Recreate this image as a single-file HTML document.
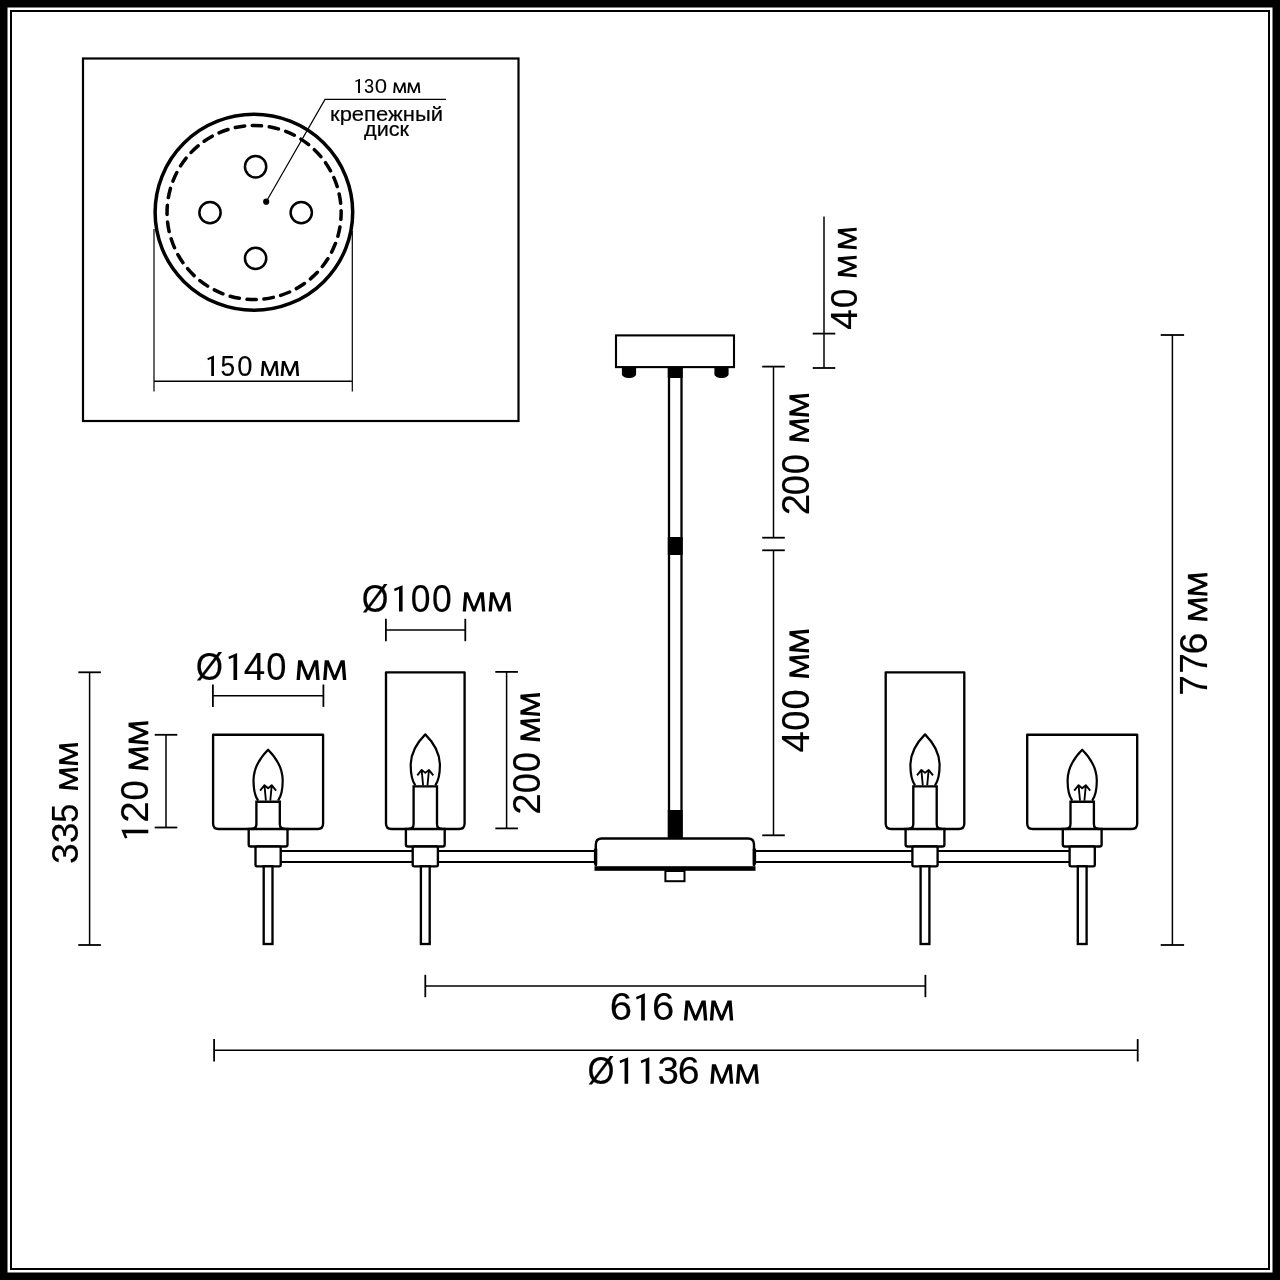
<!DOCTYPE html>
<html><head><meta charset="utf-8"><style>
html,body{margin:0;padding:0;background:#fff;}
svg{display:block;will-change:transform;}
</style></head><body>
<svg width="1280" height="1280" viewBox="0 0 1280 1280">
<rect width="1280" height="1280" fill="#fff"/>
<rect x="0" y="0" width="1280" height="7.5" fill="#000"/>
<rect x="0" y="1272.5" width="1280" height="7.5" fill="#000"/>
<rect x="0" y="0" width="7.5" height="1280" fill="#000"/>
<rect x="1272.5" y="0" width="7.5" height="1280" fill="#000"/>
<rect x="11" y="11" width="1258" height="1258" fill="none" stroke="#000" stroke-width="2"/>
<rect x="83" y="58.5" width="435.5" height="362.5" fill="none" stroke="#000" stroke-width="2.2"/>
<ellipse cx="253.9" cy="212.35" rx="98.8" ry="98.0" fill="none" stroke="#000" stroke-width="3.5"/>
<circle cx="254.1" cy="212.5" r="87.05" fill="none" stroke="#000" stroke-width="3.5" stroke-linecap="round" stroke-dasharray="9.5 7.592" stroke-dashoffset="2.55"/>
<circle cx="255.6" cy="166.75" r="10.65" fill="none" stroke="#000" stroke-width="2.5"/>
<circle cx="210" cy="212.6" r="10.65" fill="none" stroke="#000" stroke-width="2.5"/>
<circle cx="301.25" cy="212.6" r="10.65" fill="none" stroke="#000" stroke-width="2.5"/>
<circle cx="255.6" cy="258.3" r="10.65" fill="none" stroke="#000" stroke-width="2.5"/>
<circle cx="266.2" cy="201.7" r="3.1" fill="#000"/>
<polyline points="266.2,201.7 325,99.4 446,99.4" fill="none" stroke="#000" stroke-width="1.2"/>
<line x1="154" y1="229" x2="154" y2="391.6" stroke="#000" stroke-width="1.2"/>
<line x1="352.3" y1="231" x2="352.3" y2="391.6" stroke="#000" stroke-width="1.2"/>
<line x1="154" y1="381.3" x2="352.3" y2="381.3" stroke="#000" stroke-width="1.5"/>
<rect x="616" y="335.4" width="118" height="31.7" fill="none" stroke="#000" stroke-width="2.1"/>
<path d="M621.9,367 h14.2 v7 C636.1,376.5 632.55,378 629.0,378 C625.4499999999999,378 621.9,376.5 621.9,374 z" fill="#000"/>
<path d="M714.4,367 h14.2 v7 C728.6,376.5 725.05,378 721.5,378 C717.9499999999999,378 714.4,376.5 714.4,374 z" fill="#000"/>
<line x1="669" y1="368" x2="669" y2="838" stroke="#000" stroke-width="2.3"/>
<line x1="681.5" y1="368" x2="681.5" y2="838" stroke="#000" stroke-width="2.3"/>
<rect x="667.8" y="368" width="14.9" height="10" fill="#000"/>
<rect x="667.8" y="537" width="14.9" height="18" fill="#000"/>
<rect x="667.8" y="810" width="14.9" height="28" fill="#000"/>
<line x1="280" y1="851.1" x2="596" y2="851.1" stroke="#000" stroke-width="2"/>
<line x1="754" y1="851.1" x2="1069" y2="851.1" stroke="#000" stroke-width="2"/>
<line x1="280" y1="862.0" x2="596" y2="862.0" stroke="#000" stroke-width="2"/>
<line x1="754" y1="862.0" x2="1069" y2="862.0" stroke="#000" stroke-width="2"/>
<path d="M595.8,866 V844.5 Q595.8,838.5 601.8,838.5 H748 Q754,838.5 754,844.5 V866" fill="#fff" stroke="#000" stroke-width="2.4"/>
<rect x="594.5" y="866.2" width="161" height="4.6" fill="#000"/>
<rect x="593.9" y="848.6" width="3.4" height="16" fill="#000"/>
<rect x="752.7" y="848.6" width="3.4" height="16" fill="#000"/>
<rect x="665.4" y="871" width="19.1" height="10.2" fill="none" stroke="#000" stroke-width="2"/>
<path d="M213.10000000000002,734.7 V823.5 Q213.10000000000002,829.0 218.60000000000002,829.0 H317.6 Q323.1,829.0 323.1,823.5 V734.7 Z" fill="#fff" stroke="#000" stroke-width="2.35" stroke-linejoin="round"/>
<path d="M248.70000000000002,829.0 V844.5 Q248.70000000000002,846.5 250.70000000000002,846.5 H285.5 Q287.5,846.5 287.5,844.5 V829.0" fill="#fff" stroke="#000" stroke-width="2.35" stroke-linejoin="round"/>
<path d="M251.40000000000003,829.0 Q256.40000000000003,829.0 256.40000000000003,824.0 V801.7 H279.8 V824.0 Q279.8,829.0 284.8,829.0" fill="#fff" stroke="#000" stroke-width="2.35"/>
<line x1="247.60000000000002" y1="829.0" x2="288.6" y2="829.0" stroke="#000" stroke-width="2.35"/>
<path d="M258.1,800.7 C254.10000000000002,794.7 253.50000000000003,786.7 253.50000000000003,780.7 C253.50000000000003,765.7 262.1,755.7 268.1,749.7 C274.1,755.7 282.70000000000005,765.7 282.70000000000005,780.7 C282.70000000000005,786.7 282.1,794.7 278.1,800.7" fill="none" stroke="#000" stroke-width="2.2" stroke-linejoin="round"/>
<path d="M265.90000000000003,800.7 L264.5,785.7 M270.3,800.7 L271.70000000000005,785.7 M260.1,790.7 L264.5,785.2 L268.1,788.2 L271.70000000000005,785.2 L276.1,790.7" fill="none" stroke="#000" stroke-width="1.85" stroke-linejoin="round"/>
<path d="M386.0,672.3 V823.5 Q386.0,829.0 391.5,829.0 H459.1 Q464.6,829.0 464.6,823.5 V672.3 Z" fill="#fff" stroke="#000" stroke-width="2.35" stroke-linejoin="round"/>
<path d="M405.90000000000003,829.0 V844.5 Q405.90000000000003,846.5 407.90000000000003,846.5 H442.7 Q444.7,846.5 444.7,844.5 V829.0" fill="#fff" stroke="#000" stroke-width="2.35" stroke-linejoin="round"/>
<path d="M408.6,829.0 Q413.6,829.0 413.6,824.0 V786.4 H437.0 V824.0 Q437.0,829.0 442.0,829.0" fill="#fff" stroke="#000" stroke-width="2.35"/>
<line x1="404.8" y1="829.0" x2="445.8" y2="829.0" stroke="#000" stroke-width="2.35"/>
<path d="M415.3,785.4 C411.3,779.4 410.7,771.4 410.7,765.4 C410.7,750.4 419.3,740.4 425.3,734.4 C431.3,740.4 439.90000000000003,750.4 439.90000000000003,765.4 C439.90000000000003,771.4 439.3,779.4 435.3,785.4" fill="none" stroke="#000" stroke-width="2.2" stroke-linejoin="round"/>
<path d="M423.1,785.4 L421.7,770.4 M427.5,785.4 L428.90000000000003,770.4 M417.3,775.4 L421.7,769.9 L425.3,772.9 L428.90000000000003,769.9 L433.3,775.4" fill="none" stroke="#000" stroke-width="1.85" stroke-linejoin="round"/>
<path d="M885.7,672.3 V823.5 Q885.7,829.0 891.2,829.0 H958.8 Q964.3,829.0 964.3,823.5 V672.3 Z" fill="#fff" stroke="#000" stroke-width="2.35" stroke-linejoin="round"/>
<path d="M905.6,829.0 V844.5 Q905.6,846.5 907.6,846.5 H942.4 Q944.4,846.5 944.4,844.5 V829.0" fill="#fff" stroke="#000" stroke-width="2.35" stroke-linejoin="round"/>
<path d="M908.3,829.0 Q913.3,829.0 913.3,824.0 V786.4 H936.7 V824.0 Q936.7,829.0 941.7,829.0" fill="#fff" stroke="#000" stroke-width="2.35"/>
<line x1="904.5" y1="829.0" x2="945.5" y2="829.0" stroke="#000" stroke-width="2.35"/>
<path d="M915.0,785.4 C911.0,779.4 910.4,771.4 910.4,765.4 C910.4,750.4 919.0,740.4 925.0,734.4 C931.0,740.4 939.6,750.4 939.6,765.4 C939.6,771.4 939.0,779.4 935.0,785.4" fill="none" stroke="#000" stroke-width="2.2" stroke-linejoin="round"/>
<path d="M922.8,785.4 L921.4,770.4 M927.2,785.4 L928.6,770.4 M917.0,775.4 L921.4,769.9 L925.0,772.9 L928.6,769.9 L933.0,775.4" fill="none" stroke="#000" stroke-width="1.85" stroke-linejoin="round"/>
<path d="M1027.2,734.7 V823.5 Q1027.2,829.0 1032.7,829.0 H1131.7 Q1137.2,829.0 1137.2,823.5 V734.7 Z" fill="#fff" stroke="#000" stroke-width="2.35" stroke-linejoin="round"/>
<path d="M1062.8,829.0 V844.5 Q1062.8,846.5 1064.8,846.5 H1099.6000000000001 Q1101.6000000000001,846.5 1101.6000000000001,844.5 V829.0" fill="#fff" stroke="#000" stroke-width="2.35" stroke-linejoin="round"/>
<path d="M1065.5,829.0 Q1070.5,829.0 1070.5,824.0 V801.7 H1093.9 V824.0 Q1093.9,829.0 1098.9,829.0" fill="#fff" stroke="#000" stroke-width="2.35"/>
<line x1="1061.7" y1="829.0" x2="1102.7" y2="829.0" stroke="#000" stroke-width="2.35"/>
<path d="M1072.2,800.7 C1068.2,794.7 1067.6000000000001,786.7 1067.6000000000001,780.7 C1067.6000000000001,765.7 1076.2,755.7 1082.2,749.7 C1088.2,755.7 1096.8,765.7 1096.8,780.7 C1096.8,786.7 1096.2,794.7 1092.2,800.7" fill="none" stroke="#000" stroke-width="2.2" stroke-linejoin="round"/>
<path d="M1080.0,800.7 L1078.6000000000001,785.7 M1084.4,800.7 L1085.8,785.7 M1074.2,790.7 L1078.6000000000001,785.2 L1082.2,788.2 L1085.8,785.2 L1090.2,790.7" fill="none" stroke="#000" stroke-width="1.85" stroke-linejoin="round"/>
<rect x="255.50000000000003" y="846.5" width="25.2" height="19.8" rx="1.5" fill="#fff" stroke="#000" stroke-width="2.35"/>
<rect x="263.70000000000005" y="866.3" width="8.8" height="77.7" fill="#fff" stroke="#000" stroke-width="2.35"/>
<rect x="412.7" y="846.5" width="25.2" height="19.8" rx="1.5" fill="#fff" stroke="#000" stroke-width="2.35"/>
<rect x="420.90000000000003" y="866.3" width="8.8" height="77.7" fill="#fff" stroke="#000" stroke-width="2.35"/>
<rect x="912.4" y="846.5" width="25.2" height="19.8" rx="1.5" fill="#fff" stroke="#000" stroke-width="2.35"/>
<rect x="920.6" y="866.3" width="8.8" height="77.7" fill="#fff" stroke="#000" stroke-width="2.35"/>
<rect x="1069.6000000000001" y="846.5" width="25.2" height="19.8" rx="1.5" fill="#fff" stroke="#000" stroke-width="2.35"/>
<rect x="1077.8" y="866.3" width="8.8" height="77.7" fill="#fff" stroke="#000" stroke-width="2.35"/>
<line x1="824" y1="216.4" x2="824" y2="368" stroke="#000" stroke-width="1.5"/>
<line x1="812.7" y1="333.6" x2="835.3" y2="333.6" stroke="#000" stroke-width="1.8"/>
<line x1="812.7" y1="368" x2="835.3" y2="368" stroke="#000" stroke-width="1.8"/>
<line x1="773.5" y1="366.6" x2="773.5" y2="537.7" stroke="#000" stroke-width="1.5"/>
<line x1="762.2" y1="366.6" x2="784.8" y2="366.6" stroke="#000" stroke-width="1.8"/>
<line x1="762.2" y1="537.7" x2="784.8" y2="537.7" stroke="#000" stroke-width="1.8"/>
<line x1="773.5" y1="550.3" x2="773.5" y2="835.3" stroke="#000" stroke-width="1.5"/>
<line x1="762.2" y1="550.3" x2="784.8" y2="550.3" stroke="#000" stroke-width="1.8"/>
<line x1="762.2" y1="835.3" x2="784.8" y2="835.3" stroke="#000" stroke-width="1.8"/>
<line x1="1172.4" y1="335" x2="1172.4" y2="945" stroke="#000" stroke-width="1.5"/>
<line x1="1160.7" y1="335" x2="1184.1000000000001" y2="335" stroke="#000" stroke-width="1.8"/>
<line x1="1160.7" y1="945" x2="1184.1000000000001" y2="945" stroke="#000" stroke-width="1.8"/>
<line x1="89.6" y1="672.3" x2="89.6" y2="945" stroke="#000" stroke-width="1.5"/>
<line x1="78.3" y1="672.3" x2="100.89999999999999" y2="672.3" stroke="#000" stroke-width="1.8"/>
<line x1="78.3" y1="945" x2="100.89999999999999" y2="945" stroke="#000" stroke-width="1.8"/>
<line x1="166" y1="734.8" x2="166" y2="827.5" stroke="#000" stroke-width="1.5"/>
<line x1="154.7" y1="734.8" x2="177.3" y2="734.8" stroke="#000" stroke-width="1.8"/>
<line x1="154.7" y1="827.5" x2="177.3" y2="827.5" stroke="#000" stroke-width="1.8"/>
<line x1="506.6" y1="671.9" x2="506.6" y2="828.4" stroke="#000" stroke-width="1.5"/>
<line x1="495.3" y1="671.9" x2="517.9" y2="671.9" stroke="#000" stroke-width="1.8"/>
<line x1="495.3" y1="828.4" x2="517.9" y2="828.4" stroke="#000" stroke-width="1.8"/>
<line x1="212.9" y1="695.7" x2="323.4" y2="695.7" stroke="#000" stroke-width="1.5"/>
<line x1="212.9" y1="684.5" x2="212.9" y2="706.9000000000001" stroke="#000" stroke-width="1.8"/>
<line x1="323.4" y1="684.5" x2="323.4" y2="706.9000000000001" stroke="#000" stroke-width="1.8"/>
<line x1="385.9" y1="630.0" x2="465.3" y2="630.0" stroke="#000" stroke-width="1.5"/>
<line x1="385.9" y1="618.8" x2="385.9" y2="641.2" stroke="#000" stroke-width="1.8"/>
<line x1="465.3" y1="618.8" x2="465.3" y2="641.2" stroke="#000" stroke-width="1.8"/>
<line x1="425.3" y1="986.0" x2="925.4" y2="986.0" stroke="#000" stroke-width="1.5"/>
<line x1="425.3" y1="974.8" x2="425.3" y2="997.2" stroke="#000" stroke-width="1.8"/>
<line x1="925.4" y1="974.8" x2="925.4" y2="997.2" stroke="#000" stroke-width="1.8"/>
<line x1="214.1" y1="1050.3" x2="1137.7" y2="1050.3" stroke="#000" stroke-width="1.5"/>
<line x1="214.1" y1="1039.1" x2="214.1" y2="1061.5" stroke="#000" stroke-width="1.8"/>
<line x1="1137.7" y1="1039.1" x2="1137.7" y2="1061.5" stroke="#000" stroke-width="1.8"/>
<text x="330.0" y="121.0" font-size="20.8" textLength="113.0" lengthAdjust="spacingAndGlyphs" font-family="Liberation Sans, sans-serif" fill="#000" stroke="#000" stroke-width="0.2">крепежный</text>
<text x="364.0" y="135.6" font-size="20.8" textLength="45.0" lengthAdjust="spacingAndGlyphs" font-family="Liberation Sans, sans-serif" fill="#000" stroke="#000" stroke-width="0.2">диск</text>
<text transform="translate(375.2,611.5) scale(0.8979,1)" x="0" y="0" text-anchor="middle" font-size="38.23" font-family="Liberation Sans, sans-serif" fill="#000" stroke="#000" stroke-width="0.167">Ø</text>
<path transform="translate(400.8,611.5)" d="M1.79,-26.30 L-6.77,-22.72 L-6.09,-20.31 L-1.79,-22.24 L-1.79,0.00 L1.79,0.00 Z" fill="#000"/>
<text transform="translate(420.5,611.5) scale(0.9275,1)" x="0" y="0" text-anchor="middle" font-size="38.23" font-family="Liberation Sans, sans-serif" fill="#000" stroke="#000" stroke-width="0.162">0</text>
<text transform="translate(441.75,611.5) scale(0.9275,1)" x="0" y="0" text-anchor="middle" font-size="38.23" font-family="Liberation Sans, sans-serif" fill="#000" stroke="#000" stroke-width="0.162">0</text>
<path transform="translate(474.0,611.5) scale(0.9912,0.9669)" d="M-11.4,0 L-9.85,-19.9 L-5.9,-19.9 L0,-4.8 L5.9,-19.9 L9.85,-19.9 L11.4,0 L8.1,0 L6.97,-14.5 L1.3,0 L-1.3,0 L-6.97,-14.5 L-8.1,0 Z" fill="#000"/>
<path transform="translate(499.9,611.5) scale(0.9912,0.9669)" d="M-11.4,0 L-9.85,-19.9 L-5.9,-19.9 L0,-4.8 L5.9,-19.9 L9.85,-19.9 L11.4,0 L8.1,0 L6.97,-14.5 L1.3,0 L-1.3,0 L-6.97,-14.5 L-8.1,0 Z" fill="#000"/>
<text transform="translate(209.4,680.0) scale(0.8979,1)" x="0" y="0" text-anchor="middle" font-size="39.10" font-family="Liberation Sans, sans-serif" fill="#000" stroke="#000" stroke-width="0.167">Ø</text>
<path transform="translate(235.3,680.0)" d="M1.83,-26.90 L-6.92,-23.24 L-6.23,-20.77 L-1.83,-22.75 L-1.83,0.00 L1.83,0.00 Z" fill="#000"/>
<text transform="translate(254.4,680.0) scale(0.9861,1)" x="0" y="0" text-anchor="middle" font-size="39.10" font-family="Liberation Sans, sans-serif" fill="#000" stroke="#000" stroke-width="0.152">4</text>
<text transform="translate(276.25,680.0) scale(0.9275,1)" x="0" y="0" text-anchor="middle" font-size="39.10" font-family="Liberation Sans, sans-serif" fill="#000" stroke="#000" stroke-width="0.162">0</text>
<path transform="translate(308.1,680.0) scale(1.0138,0.9890)" d="M-11.4,0 L-9.85,-19.9 L-5.9,-19.9 L0,-4.8 L5.9,-19.9 L9.85,-19.9 L11.4,0 L8.1,0 L6.97,-14.5 L1.3,0 L-1.3,0 L-6.97,-14.5 L-8.1,0 Z" fill="#000"/>
<path transform="translate(334.7,680.0) scale(1.0138,0.9890)" d="M-11.4,0 L-9.85,-19.9 L-5.9,-19.9 L0,-4.8 L5.9,-19.9 L9.85,-19.9 L11.4,0 L8.1,0 L6.97,-14.5 L1.3,0 L-1.3,0 L-6.97,-14.5 L-8.1,0 Z" fill="#000"/>
<text transform="translate(621.0,1020.4) scale(1.0161,1)" x="0" y="0" text-anchor="middle" font-size="39.53" font-family="Liberation Sans, sans-serif" fill="#000" stroke="#000" stroke-width="0.148">6</text>
<path transform="translate(643.0,1020.4)" d="M1.85,-27.20 L-7.00,-23.50 L-6.30,-21.00 L-1.85,-23.00 L-1.85,0.00 L1.85,0.00 Z" fill="#000"/>
<text transform="translate(663.1,1020.4) scale(1.0161,1)" x="0" y="0" text-anchor="middle" font-size="39.53" font-family="Liberation Sans, sans-serif" fill="#000" stroke="#000" stroke-width="0.148">6</text>
<path transform="translate(695.6,1020.4) scale(1.0251,1.0000)" d="M-11.4,0 L-9.85,-19.9 L-5.9,-19.9 L0,-4.8 L5.9,-19.9 L9.85,-19.9 L11.4,0 L8.1,0 L6.97,-14.5 L1.3,0 L-1.3,0 L-6.97,-14.5 L-8.1,0 Z" fill="#000"/>
<path transform="translate(721.55,1020.4) scale(1.0251,1.0000)" d="M-11.4,0 L-9.85,-19.9 L-5.9,-19.9 L0,-4.8 L5.9,-19.9 L9.85,-19.9 L11.4,0 L8.1,0 L6.97,-14.5 L1.3,0 L-1.3,0 L-6.97,-14.5 L-8.1,0 Z" fill="#000"/>
<text transform="translate(601.1,1083.75) scale(0.8979,1)" x="0" y="0" text-anchor="middle" font-size="38.66" font-family="Liberation Sans, sans-serif" fill="#000" stroke="#000" stroke-width="0.167">Ø</text>
<path transform="translate(626.35,1083.75)" d="M1.81,-26.60 L-6.85,-22.98 L-6.16,-20.54 L-1.81,-22.49 L-1.81,0.00 L1.81,0.00 Z" fill="#000"/>
<path transform="translate(647.5,1083.75)" d="M1.81,-26.60 L-6.85,-22.98 L-6.16,-20.54 L-1.81,-22.49 L-1.81,0.00 L1.81,0.00 Z" fill="#000"/>
<text transform="translate(668.3,1083.75) scale(0.9943,1)" x="0" y="0" text-anchor="middle" font-size="38.66" font-family="Liberation Sans, sans-serif" fill="#000" stroke="#000" stroke-width="0.151">3</text>
<text transform="translate(688.8,1083.75) scale(1.0161,1)" x="0" y="0" text-anchor="middle" font-size="38.66" font-family="Liberation Sans, sans-serif" fill="#000" stroke="#000" stroke-width="0.148">6</text>
<path transform="translate(721.8,1083.75) scale(1.0025,0.9779)" d="M-11.4,0 L-9.85,-19.9 L-5.9,-19.9 L0,-4.8 L5.9,-19.9 L9.85,-19.9 L11.4,0 L8.1,0 L6.97,-14.5 L1.3,0 L-1.3,0 L-6.97,-14.5 L-8.1,0 Z" fill="#000"/>
<path transform="translate(747.4,1083.75) scale(1.0025,0.9779)" d="M-11.4,0 L-9.85,-19.9 L-5.9,-19.9 L0,-4.8 L5.9,-19.9 L9.85,-19.9 L11.4,0 L8.1,0 L6.97,-14.5 L1.3,0 L-1.3,0 L-6.97,-14.5 L-8.1,0 Z" fill="#000"/>
<path transform="translate(212.6,375.9)" d="M1.38,-20.30 L-5.22,-17.54 L-4.70,-15.67 L-1.38,-17.17 L-1.38,0.00 L1.38,0.00 Z" fill="#000"/>
<text transform="translate(227.7,375.9) scale(0.8864,1)" x="0" y="0" text-anchor="middle" font-size="29.51" font-family="Liberation Sans, sans-serif" fill="#000" stroke="#000" stroke-width="0.113">5</text>
<text transform="translate(244.9,375.9) scale(0.9288,1)" x="0" y="0" text-anchor="middle" font-size="29.51" font-family="Liberation Sans, sans-serif" fill="#000" stroke="#000" stroke-width="0.108">0</text>
<path transform="translate(269.8,375.9) scale(0.7807,0.7463)" d="M-11.4,0 L-9.85,-19.9 L-5.9,-19.9 L0,-4.8 L5.9,-19.9 L9.85,-19.9 L11.4,0 L8.1,0 L6.97,-14.5 L1.3,0 L-1.3,0 L-6.97,-14.5 L-8.1,0 Z" fill="#000"/>
<path transform="translate(289.9,375.9) scale(0.8070,0.7463)" d="M-11.4,0 L-9.85,-19.9 L-5.9,-19.9 L0,-4.8 L5.9,-19.9 L9.85,-19.9 L11.4,0 L8.1,0 L6.97,-14.5 L1.3,0 L-1.3,0 L-6.97,-14.5 L-8.1,0 Z" fill="#000"/>
<path transform="translate(359.0,93.0)" d="M0.97,-14.30 L-3.68,-12.35 L-3.31,-11.04 L-0.97,-12.09 L-0.97,0.00 L0.97,0.00 Z" fill="#000"/>
<text transform="translate(369.1,93.0) scale(0.8727,1)" x="0" y="0" text-anchor="middle" font-size="20.78" font-family="Liberation Sans, sans-serif" fill="#000" stroke="#000" stroke-width="0.057">3</text>
<text transform="translate(380.9,93.0) scale(1.0669,1)" x="0" y="0" text-anchor="middle" font-size="20.78" font-family="Liberation Sans, sans-serif" fill="#000" stroke="#000" stroke-width="0.047">0</text>
<path transform="translate(399.7,93.0) scale(0.5702,0.5257)" d="M-11.4,0 L-9.85,-19.9 L-5.9,-19.9 L0,-4.8 L5.9,-19.9 L9.85,-19.9 L11.4,0 L8.1,0 L6.97,-14.5 L1.3,0 L-1.3,0 L-6.97,-14.5 L-8.1,0 Z" fill="#000"/>
<path transform="translate(413.85,93.0) scale(0.5658,0.5257)" d="M-11.4,0 L-9.85,-19.9 L-5.9,-19.9 L0,-4.8 L5.9,-19.9 L9.85,-19.9 L11.4,0 L8.1,0 L6.97,-14.5 L1.3,0 L-1.3,0 L-6.97,-14.5 L-8.1,0 Z" fill="#000"/>
<text transform="translate(856.7,319.5) rotate(-90) scale(0.9861,1)" x="0" y="0" text-anchor="middle" font-size="37.50" font-family="Liberation Sans, sans-serif" fill="#000" stroke="#000" stroke-width="0.152">4</text>
<text transform="translate(856.7,298.4) rotate(-90) scale(0.9275,1)" x="0" y="0" text-anchor="middle" font-size="37.50" font-family="Liberation Sans, sans-serif" fill="#000" stroke="#000" stroke-width="0.162">0</text>
<path transform="translate(856.7,266.5) rotate(-90) scale(0.9430,0.9485)" d="M-11.4,0 L-9.85,-19.9 L-5.9,-19.9 L0,-4.8 L5.9,-19.9 L9.85,-19.9 L11.4,0 L8.1,0 L6.97,-14.5 L1.3,0 L-1.3,0 L-6.97,-14.5 L-8.1,0 Z" fill="#000"/>
<path transform="translate(856.7,238.5) rotate(-90) scale(0.9430,0.9485)" d="M-11.4,0 L-9.85,-19.9 L-5.9,-19.9 L0,-4.8 L5.9,-19.9 L9.85,-19.9 L11.4,0 L8.1,0 L6.97,-14.5 L1.3,0 L-1.3,0 L-6.97,-14.5 L-8.1,0 Z" fill="#000"/>
<text transform="translate(809.0,504.7) rotate(-90) scale(0.9844,1)" x="0" y="0" text-anchor="middle" font-size="38.95" font-family="Liberation Sans, sans-serif" fill="#000" stroke="#000" stroke-width="0.152">2</text>
<text transform="translate(809.0,485.2) rotate(-90) scale(0.9275,1)" x="0" y="0" text-anchor="middle" font-size="38.95" font-family="Liberation Sans, sans-serif" fill="#000" stroke="#000" stroke-width="0.162">0</text>
<text transform="translate(809.0,464.3) rotate(-90) scale(0.9275,1)" x="0" y="0" text-anchor="middle" font-size="38.95" font-family="Liberation Sans, sans-serif" fill="#000" stroke="#000" stroke-width="0.162">0</text>
<path transform="translate(809.0,430.5) rotate(-90) scale(1.0100,0.9853)" d="M-11.4,0 L-9.85,-19.9 L-5.9,-19.9 L0,-4.8 L5.9,-19.9 L9.85,-19.9 L11.4,0 L8.1,0 L6.97,-14.5 L1.3,0 L-1.3,0 L-6.97,-14.5 L-8.1,0 Z" fill="#000"/>
<path transform="translate(809.0,405.3) rotate(-90) scale(1.0100,0.9853)" d="M-11.4,0 L-9.85,-19.9 L-5.9,-19.9 L0,-4.8 L5.9,-19.9 L9.85,-19.9 L11.4,0 L8.1,0 L6.97,-14.5 L1.3,0 L-1.3,0 L-6.97,-14.5 L-8.1,0 Z" fill="#000"/>
<text transform="translate(809.0,741.9) rotate(-90) scale(0.9861,1)" x="0" y="0" text-anchor="middle" font-size="38.95" font-family="Liberation Sans, sans-serif" fill="#000" stroke="#000" stroke-width="0.152">4</text>
<text transform="translate(809.0,720.7) rotate(-90) scale(0.9275,1)" x="0" y="0" text-anchor="middle" font-size="38.95" font-family="Liberation Sans, sans-serif" fill="#000" stroke="#000" stroke-width="0.162">0</text>
<text transform="translate(809.0,699.5) rotate(-90) scale(0.9275,1)" x="0" y="0" text-anchor="middle" font-size="38.95" font-family="Liberation Sans, sans-serif" fill="#000" stroke="#000" stroke-width="0.162">0</text>
<path transform="translate(809.0,666.5) rotate(-90) scale(1.0100,0.9853)" d="M-11.4,0 L-9.85,-19.9 L-5.9,-19.9 L0,-4.8 L5.9,-19.9 L9.85,-19.9 L11.4,0 L8.1,0 L6.97,-14.5 L1.3,0 L-1.3,0 L-6.97,-14.5 L-8.1,0 Z" fill="#000"/>
<path transform="translate(809.0,641.1) rotate(-90) scale(1.0100,0.9853)" d="M-11.4,0 L-9.85,-19.9 L-5.9,-19.9 L0,-4.8 L5.9,-19.9 L9.85,-19.9 L11.4,0 L8.1,0 L6.97,-14.5 L1.3,0 L-1.3,0 L-6.97,-14.5 L-8.1,0 Z" fill="#000"/>
<text transform="translate(1207.4,685.6) rotate(-90) scale(0.9529,1)" x="0" y="0" text-anchor="middle" font-size="38.81" font-family="Liberation Sans, sans-serif" fill="#000" stroke="#000" stroke-width="0.157">7</text>
<text transform="translate(1207.4,663.4) rotate(-90) scale(0.9529,1)" x="0" y="0" text-anchor="middle" font-size="38.81" font-family="Liberation Sans, sans-serif" fill="#000" stroke="#000" stroke-width="0.157">7</text>
<text transform="translate(1207.4,643.5) rotate(-90) scale(1.0161,1)" x="0" y="0" text-anchor="middle" font-size="38.81" font-family="Liberation Sans, sans-serif" fill="#000" stroke="#000" stroke-width="0.148">6</text>
<path transform="translate(1207.4,609.5) rotate(-90) scale(1.0062,0.9816)" d="M-11.4,0 L-9.85,-19.9 L-5.9,-19.9 L0,-4.8 L5.9,-19.9 L9.85,-19.9 L11.4,0 L8.1,0 L6.97,-14.5 L1.3,0 L-1.3,0 L-6.97,-14.5 L-8.1,0 Z" fill="#000"/>
<path transform="translate(1207.4,584.4) rotate(-90) scale(1.0062,0.9816)" d="M-11.4,0 L-9.85,-19.9 L-5.9,-19.9 L0,-4.8 L5.9,-19.9 L9.85,-19.9 L11.4,0 L8.1,0 L6.97,-14.5 L1.3,0 L-1.3,0 L-6.97,-14.5 L-8.1,0 Z" fill="#000"/>
<text transform="translate(78.0,853.7) rotate(-90) scale(0.9943,1)" x="0" y="0" text-anchor="middle" font-size="37.50" font-family="Liberation Sans, sans-serif" fill="#000" stroke="#000" stroke-width="0.151">3</text>
<text transform="translate(78.0,832.8) rotate(-90) scale(0.9943,1)" x="0" y="0" text-anchor="middle" font-size="37.50" font-family="Liberation Sans, sans-serif" fill="#000" stroke="#000" stroke-width="0.151">3</text>
<text transform="translate(78.0,813.2) rotate(-90) scale(0.9137,1)" x="0" y="0" text-anchor="middle" font-size="37.50" font-family="Liberation Sans, sans-serif" fill="#000" stroke="#000" stroke-width="0.164">5</text>
<path transform="translate(78.0,778.9) rotate(-90) scale(0.9723,0.9485)" d="M-11.4,0 L-9.85,-19.9 L-5.9,-19.9 L0,-4.8 L5.9,-19.9 L9.85,-19.9 L11.4,0 L8.1,0 L6.97,-14.5 L1.3,0 L-1.3,0 L-6.97,-14.5 L-8.1,0 Z" fill="#000"/>
<path transform="translate(78.0,754.1) rotate(-90) scale(0.9723,0.9485)" d="M-11.4,0 L-9.85,-19.9 L-5.9,-19.9 L0,-4.8 L5.9,-19.9 L9.85,-19.9 L11.4,0 L8.1,0 L6.97,-14.5 L1.3,0 L-1.3,0 L-6.97,-14.5 L-8.1,0 Z" fill="#000"/>
<path transform="translate(148.3,831.5) rotate(-90)" d="M1.84,-27.00 L-6.95,-23.33 L-6.25,-20.85 L-1.84,-22.83 L-1.84,0.00 L1.84,0.00 Z" fill="#000"/>
<text transform="translate(148.3,812.0) rotate(-90) scale(0.9844,1)" x="0" y="0" text-anchor="middle" font-size="39.24" font-family="Liberation Sans, sans-serif" fill="#000" stroke="#000" stroke-width="0.152">2</text>
<text transform="translate(148.3,790.4) rotate(-90) scale(0.9275,1)" x="0" y="0" text-anchor="middle" font-size="39.24" font-family="Liberation Sans, sans-serif" fill="#000" stroke="#000" stroke-width="0.162">0</text>
<path transform="translate(148.3,758.6) rotate(-90) scale(1.0175,0.9926)" d="M-11.4,0 L-9.85,-19.9 L-5.9,-19.9 L0,-4.8 L5.9,-19.9 L9.85,-19.9 L11.4,0 L8.1,0 L6.97,-14.5 L1.3,0 L-1.3,0 L-6.97,-14.5 L-8.1,0 Z" fill="#000"/>
<path transform="translate(148.3,732.8) rotate(-90) scale(1.0175,0.9926)" d="M-11.4,0 L-9.85,-19.9 L-5.9,-19.9 L0,-4.8 L5.9,-19.9 L9.85,-19.9 L11.4,0 L8.1,0 L6.97,-14.5 L1.3,0 L-1.3,0 L-6.97,-14.5 L-8.1,0 Z" fill="#000"/>
<text transform="translate(540.0,804.0) rotate(-90) scale(0.9844,1)" x="0" y="0" text-anchor="middle" font-size="38.95" font-family="Liberation Sans, sans-serif" fill="#000" stroke="#000" stroke-width="0.152">2</text>
<text transform="translate(540.0,783.3) rotate(-90) scale(0.9275,1)" x="0" y="0" text-anchor="middle" font-size="38.95" font-family="Liberation Sans, sans-serif" fill="#000" stroke="#000" stroke-width="0.162">0</text>
<text transform="translate(540.0,762.1) rotate(-90) scale(0.9275,1)" x="0" y="0" text-anchor="middle" font-size="38.95" font-family="Liberation Sans, sans-serif" fill="#000" stroke="#000" stroke-width="0.162">0</text>
<path transform="translate(540.0,729.9) rotate(-90) scale(1.0100,0.9853)" d="M-11.4,0 L-9.85,-19.9 L-5.9,-19.9 L0,-4.8 L5.9,-19.9 L9.85,-19.9 L11.4,0 L8.1,0 L6.97,-14.5 L1.3,0 L-1.3,0 L-6.97,-14.5 L-8.1,0 Z" fill="#000"/>
<path transform="translate(540.0,704.6) rotate(-90) scale(1.0100,0.9853)" d="M-11.4,0 L-9.85,-19.9 L-5.9,-19.9 L0,-4.8 L5.9,-19.9 L9.85,-19.9 L11.4,0 L8.1,0 L6.97,-14.5 L1.3,0 L-1.3,0 L-6.97,-14.5 L-8.1,0 Z" fill="#000"/>
</svg>
</body></html>
